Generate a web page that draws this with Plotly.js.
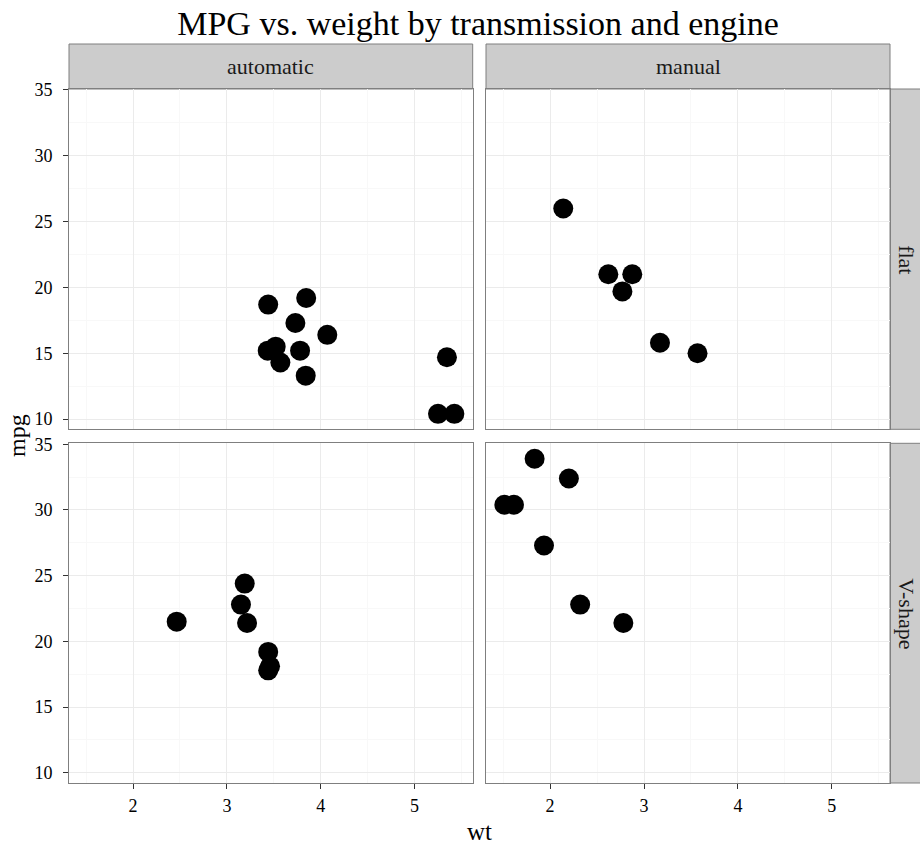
<!DOCTYPE html>
<html>
<head>
<meta charset="utf-8">
<script src="https://cdn.plot.ly/plotly-3.0.1.min.js"></script>
<style>html,body{margin:0;padding:0;background:#fff;}</style>
</head>
<body>
<div id="chart" style="width:920px;height:844px;"></div>
<script>
// mtcars subsets: automatic/manual x flat(vs=0)/V-shape(vs=1)
const autoFlatWt  = [3.440, 3.570, 4.070, 3.730, 3.780, 5.250, 5.424, 5.345, 3.520, 3.435, 3.840, 3.845];
const autoFlatMpg = [18.7, 14.3, 16.4, 17.3, 15.2, 10.4, 10.4, 14.7, 15.5, 15.2, 13.3, 19.2];
const manFlatWt   = [2.620, 2.875, 2.140, 3.170, 2.770, 3.570];
const manFlatMpg  = [21.0, 21.0, 26.0, 15.8, 19.7, 15.0];
const autoVWt     = [3.215, 3.460, 3.190, 3.150, 3.440, 3.440, 2.465];
const autoVMpg    = [21.4, 18.1, 24.4, 22.8, 19.2, 17.8, 21.5];
const manVWt      = [2.320, 2.200, 1.615, 1.835, 1.935, 1.513, 2.780];
const manVMpg     = [22.8, 32.4, 30.4, 33.9, 27.3, 30.4, 21.4];

const colLabels = ["automatic", "manual"];
const rowLabels = ["flat", "V-shape"];
const titleText = "MPG vs. weight by transmission and engine";
const xTitle = "wt", yTitle = "mpg";
const xTicks = [2, 3, 4, 5];
const yTicks = [10, 15, 20, 25, 30, 35];

const FONT = "Liberation Serif, DejaVu Serif, serif";
const W = 920, H = 844, ML = 69, MB = 61;
const PW = W - ML, PH = H - MB;
const px = v => (v - ML) / PW;            // pixel x -> paper
const py = v => (PH - v) / PH;            // pixel y -> paper

const xDomL = [px(69), px(472.7)], xDomR = [px(486), px(890)];
const yDomT = [py(429.3), py(89)], yDomB = [0, py(443.3)];

const mk = {size: 20, color: "#000000"};
function tr(x, y, xa, ya) {
  return {type: "scatter", mode: "markers", x: x, y: y, xaxis: xa, yaxis: ya,
          marker: mk, hoverinfo: "x+y", cliponaxis: false};
}
const data = [
  tr(autoFlatWt, autoFlatMpg, "x3", "y3"),
  tr(manFlatWt, manFlatMpg, "x4", "y4"),
  tr(autoVWt, autoVMpg, "x", "y"),
  tr(manVWt, manVMpg, "x2", "y2")
];

function xax(dom, anchor, showLabels) {
  return {domain: dom, anchor: anchor, range: [1.3174, 5.6196], tickvals: xTicks,
    showticklabels: showLabels, ticks: showLabels ? "outside" : "", ticklen: 5, tickcolor: "#333",
    ticklabelstandoff: 1,
    tickfont: {family: FONT, size: 18, color: "#000"},
    showgrid: true, gridcolor: "#EBEBEB", gridwidth: 1,
    minor: {dtick: 0.5, tick0: 1.5, showgrid: true, gridcolor: "#F8F8F8", gridwidth: 1},
    showline: true, linecolor: "#7F7F7F", linewidth: 1, mirror: true, zeroline: false};
}
function yax(dom, anchor, showLabels) {
  return {domain: dom, anchor: anchor, range: [9.225, 35.075], tickvals: yTicks,
    showticklabels: showLabels, ticks: showLabels ? "outside" : "", ticklen: 5, tickcolor: "#333",
    ticklabelstandoff: 7,
    tickfont: {family: FONT, size: 18, color: "#000"},
    showgrid: true, gridcolor: "#EBEBEB", gridwidth: 1,
    minor: {dtick: 2.5, tick0: 12.5, showgrid: true, gridcolor: "#F8F8F8", gridwidth: 1},
    showline: true, linecolor: "#7F7F7F", linewidth: 1, mirror: true, zeroline: false};
}

const stripFill = "#CCCCCC", stripLine = "#7F7F7F";
function rect(x0, x1, y0, y1) {
  return {type: "rect", xref: "paper", yref: "paper", x0: x0, x1: x1, y0: y0, y1: y1,
          fillcolor: stripFill, line: {color: stripLine, width: 1}, layer: "below"};
}
const shapes = [
  rect(xDomL[0], xDomL[1], yDomT[1], py(44)),
  rect(xDomR[0], xDomR[1], yDomT[1], py(44)),
  rect(xDomR[1], px(935), yDomT[0], yDomT[1]),
  rect(xDomR[1], px(935), yDomB[0], yDomB[1])
];

const stripFont = {family: FONT, size: 22, color: "#1A1A1A"};
const annotations = [
  {text: colLabels[0], xref: "paper", yref: "paper", x: (xDomL[0] + xDomL[1]) / 2, y: py(67),
   showarrow: false, font: stripFont, xanchor: "center", yanchor: "middle"},
  {text: colLabels[1], xref: "paper", yref: "paper", x: (xDomR[0] + xDomR[1]) / 2, y: py(67),
   showarrow: false, font: stripFont, xanchor: "center", yanchor: "middle"},
  {text: rowLabels[0], xref: "paper", yref: "paper", x: px(907), y: (yDomT[0] + yDomT[1]) / 2,
   textangle: 90, showarrow: false, font: stripFont, xanchor: "center", yanchor: "middle"},
  {text: rowLabels[1], xref: "paper", yref: "paper", x: px(907), y: (yDomB[0] + yDomB[1]) / 2,
   textangle: 90, showarrow: false, font: stripFont, xanchor: "center", yanchor: "middle"},
  {text: xTitle, xref: "paper", yref: "paper", x: px(479.5), y: py(831),
   showarrow: false, font: {family: FONT, size: 25, color: "#000"}, xanchor: "center", yanchor: "middle"},
  {text: yTitle, xref: "paper", yref: "paper", x: px(17), y: py(436),
   textangle: -90, showarrow: false, font: {family: FONT, size: 24, color: "#000"}, xanchor: "center", yanchor: "middle"}
];

const layout = {
  width: W, height: H,
  margin: {l: ML, r: 0, t: 0, b: MB, pad: 0},
  paper_bgcolor: "#fff", plot_bgcolor: "#fff",
  showlegend: false,
  title: {text: titleText, font: {family: FONT, size: 34, color: "#000"},
          x: 478 / W, xref: "container", xanchor: "center", y: 1 - 23 / H, yref: "container", yanchor: "middle"},
  xaxis: xax(xDomL, "y", true),
  yaxis: yax(yDomB, "x", true),
  xaxis2: xax(xDomR, "y2", true),
  yaxis2: yax(yDomB, "x2", false),
  xaxis3: xax(xDomL, "y3", false),
  yaxis3: yax(yDomT, "x3", true),
  xaxis4: xax(xDomR, "y4", false),
  yaxis4: yax(yDomT, "x4", false),
  shapes: shapes,
  annotations: annotations
};

Plotly.newPlot("chart", data, layout, {displayModeBar: false, staticPlot: true});
</script>
</body>
</html>
